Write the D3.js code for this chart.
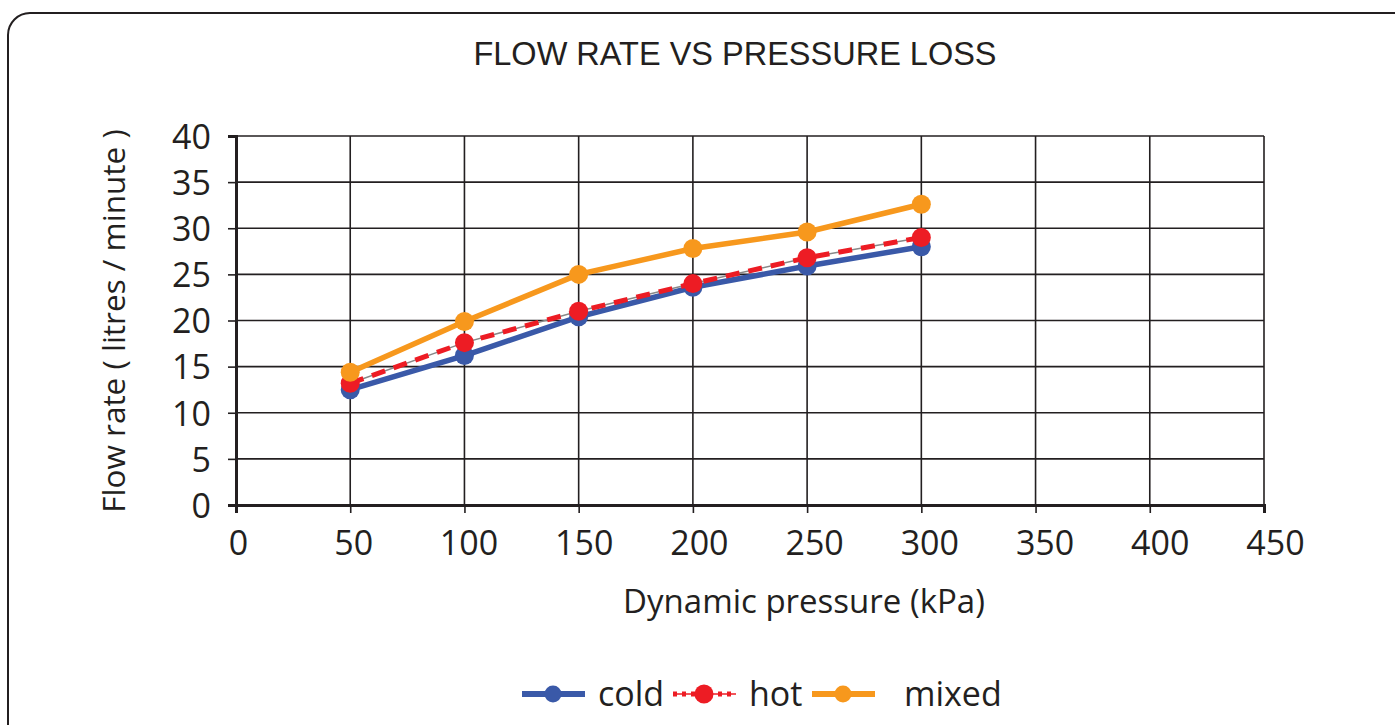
<!DOCTYPE html>
<html><head><meta charset="utf-8">
<script src="https://cdn.jsdelivr.net/npm/d3@7"></script>
<style>body{margin:0;background:#fff;}svg{display:block;}</style>
</head><body>
<svg id="c" width="1395" height="725"></svg>
<script>
const xValues = [50, 100, 150, 200, 250, 300];
const cold = [12.5, 16.2, 20.4, 23.6, 25.9, 28.0];
const hot = [13.2, 17.6, 21.0, 24.0, 26.8, 29.0];
const mixed = [14.4, 19.9, 25.0, 27.8, 29.6, 32.6];
const xTicks = [0, 50, 100, 150, 200, 250, 300, 350, 400, 450];
const yTicks = [0, 5, 10, 15, 20, 25, 30, 35, 40];
const seriesNames = ["cold", "hot", "mixed"];

const font = "'Open Sans', 'Noto Sans', sans-serif";
const svg = d3.select("#c");
svg.append("rect").attr("x", 8).attr("y", 13).attr("width", 1420).attr("height", 740)
  .attr("rx", 22).attr("fill", "#fff").attr("stroke", "#231f20").attr("stroke-width", 2);

const x = d3.scaleLinear().domain([0, 450]).range([236, 1264]);
const y = d3.scaleLinear().domain([0, 40]).range([505, 136]);

// grid
svg.append("g").selectAll("line").data(yTicks.slice(1)).join("line")
  .attr("x1", x(0)).attr("x2", x(450)).attr("y1", d => y(d)).attr("y2", d => y(d))
  .attr("stroke", "#231f20").attr("stroke-width", 1.6);
svg.append("g").selectAll("line").data(xTicks.slice(1)).join("line")
  .attr("y1", y(0)).attr("y2", y(40)).attr("x1", d => x(d)).attr("x2", d => x(d))
  .attr("stroke", "#231f20").attr("stroke-width", 1.6);

// axes
const yAxis = svg.append("g").attr("transform", `translate(${x(0)},0)`)
  .call(d3.axisLeft(y).tickValues(yTicks).tickSize(8).tickPadding(17));
const xAxis = svg.append("g").attr("transform", `translate(0,${y(0)})`)
  .call(d3.axisBottom(x).tickValues(xTicks).tickSize(8).tickPadding(18));
[xAxis, yAxis].forEach(a => {
  a.select(".domain").attr("stroke", "#231f20").attr("stroke-width", 3);
  a.selectAll(".tick line").attr("stroke", "#231f20").attr("stroke-width", 1.6);
  a.selectAll("text").attr("font-family", font).attr("font-size", 34).attr("fill", "#231f20");
});
yAxis.selectAll("text").attr("dy", "0.36em");
xAxis.selectAll(".tick text").attr("dx", d => 2 + d * 0.02);

const line = d3.line().x((d, i) => x(xValues[i])).y(d => y(d));

function drawSeries(vals, color, dashed, r, w) {
  const g = svg.append("g");
  if (dashed) {
    g.append("path").attr("d", line(vals)).attr("fill", "none").attr("stroke", "#888").attr("stroke-width", 1.5);
    g.append("path").attr("d", line(vals)).attr("fill", "none").attr("stroke", color)
      .attr("stroke-width", w).attr("stroke-dasharray", "14,9");
  } else {
    g.append("path").attr("d", line(vals)).attr("fill", "none").attr("stroke", color).attr("stroke-width", w);
  }
  g.selectAll("circle").data(vals).join("circle")
    .attr("cx", (d, i) => x(xValues[i])).attr("cy", d => y(d)).attr("r", r).attr("fill", color);
}
drawSeries(cold, "#3a59a8", false, 9.5, 5.5);
drawSeries(hot, "#ed1c24", true, 9.5, 5);
drawSeries(mixed, "#f7981d", false, 9.5, 5.5);

// title
svg.append("text").attr("x", 735).attr("y", 65).attr("text-anchor", "middle")
  .attr("font-family", "'Liberation Sans', Arial, sans-serif").attr("font-size", 32.5).attr("fill", "#231f20")
  .text("FLOW RATE VS PRESSURE LOSS");
// axis titles
svg.append("text").attr("x", 804).attr("y", 613).attr("text-anchor", "middle")
  .attr("font-family", font).attr("font-size", 33).attr("fill", "#231f20")
  .text("Dynamic pressure (kPa)");
svg.append("text").attr("transform", "translate(125,321) rotate(-90)").attr("text-anchor", "middle")
  .attr("font-family", font).attr("font-size", 31.5).attr("fill", "#231f20")
  .text("Flow rate ( litres / minute )");

// legend
const legendItems = [
  {name: seriesNames[0], color: "#3a59a8", x0: 522, tx: 598},
  {name: seriesNames[1], color: "#ed1c24", x0: 673, tx: 749, dashed: true},
  {name: seriesNames[2], color: "#f7981d", x0: 812, tx: 904}
];
const ly = 694;
legendItems.forEach(it => {
  const g = svg.append("g");
  if (it.dashed) {
    g.append("line").attr("x1", it.x0).attr("x2", it.x0 + 63).attr("y1", ly).attr("y2", ly)
      .attr("stroke", it.color).attr("stroke-width", 1.5);
    g.append("line").attr("x1", it.x0).attr("x2", it.x0 + 63).attr("y1", ly).attr("y2", ly)
      .attr("stroke", it.color).attr("stroke-width", 5).attr("stroke-dasharray", "4,5");
  } else {
    g.append("line").attr("x1", it.x0).attr("x2", it.x0 + 63).attr("y1", ly).attr("y2", ly)
      .attr("stroke", it.color).attr("stroke-width", 6);
  }
  g.append("circle").attr("cx", it.x0 + 31).attr("cy", ly).attr("r", it.dashed ? 9.5 : 8.5).attr("fill", it.color);
  g.append("text").attr("x", it.tx).attr("y", ly).attr("dy", "0.36em")
    .attr("font-family", font).attr("font-size", 34).attr("fill", "#231f20")
    .text(it.name);
});
</script>
</body></html>
